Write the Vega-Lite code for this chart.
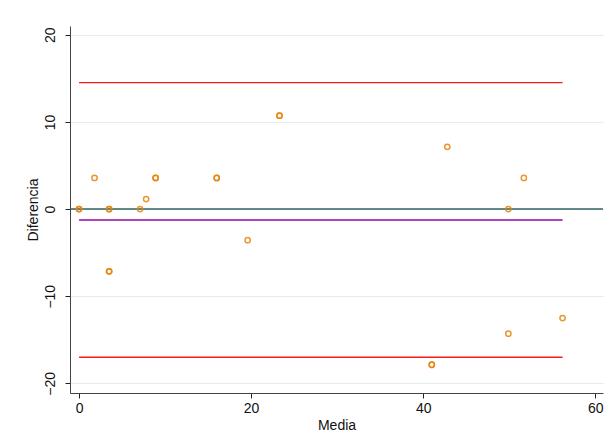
{
  "$schema": "https://vega.github.io/schema/vega-lite/v6.json",
  "width": 533,
  "height": 367,
  "autosize": "none",
  "padding": {"left": 70, "top": 26, "right": 8, "bottom": 55},
  "background": "white",
  "config": {
    "view": {"stroke": null},
    "font": "Liberation Sans",
    "axis": {
      "labelFont": "Liberation Sans",
      "titleFont": "Liberation Sans",
      "labelFontSize": 14,
      "titleFontSize": 14,
      "labelColor": "#111",
      "titleColor": "#111",
      "titleFontWeight": "normal",
      "domainColor": "#444",
      "tickColor": "#222",
      "tickSize": 5,
      "gridColor": "#e3ecef",
      "gridWidth": 1
    }
  },
  "datasets": {
    "pts": [
      {"media": 0, "dif": 0}, {"media": 0, "dif": 0},
      {"media": 1.8, "dif": 3.57},
      {"media": 3.5, "dif": 0}, {"media": 3.5, "dif": 0},
      {"media": 3.5, "dif": -7.14}, {"media": 3.5, "dif": -7.14},
      {"media": 7.1, "dif": 0},
      {"media": 7.8, "dif": 1.15},
      {"media": 8.9, "dif": 3.57}, {"media": 8.9, "dif": 3.57},
      {"media": 16.0, "dif": 3.57}, {"media": 16.0, "dif": 3.57},
      {"media": 19.6, "dif": -3.57},
      {"media": 23.3, "dif": 10.71}, {"media": 23.3, "dif": 10.71},
      {"media": 42.8, "dif": 7.14},
      {"media": 41.0, "dif": -17.86}, {"media": 41.0, "dif": -17.86},
      {"media": 49.9, "dif": 0},
      {"media": 51.7, "dif": 3.57},
      {"media": 49.9, "dif": -14.29},
      {"media": 56.2, "dif": -12.5}
    ],
    "lines": [
      {"kind": "upper", "x1": 0, "x2": 56.2, "y": 14.5},
      {"kind": "mean", "x1": 0, "x2": 56.2, "y": -1.26},
      {"kind": "lower", "x1": 0, "x2": 56.2, "y": -17.0}
    ]
  },
  "layer": [
    {
      "data": {"values": [{"z": 0}]},
      "mark": {"type": "rule", "color": "#2f6361", "strokeWidth": 1.6},
      "encoding": {
        "y": {"field": "z", "type": "quantitative", "scale": {"domain": [-21.1, 21], "nice": false, "zero": false},
          "axis": {"title": "Diferencia", "values": [-20, -10, 0, 10, 20], "labelAngle": -90, "labelAlign": "center", "labelBaseline": "bottom", "labelPadding": 8, "titlePadding": 3, "grid": true}}
      }
    },
    {
      "data": {"name": "lines"},
      "mark": {"type": "rule", "strokeWidth": 1.4},
      "encoding": {
        "x": {"field": "x1", "type": "quantitative"},
        "x2": {"field": "x2"},
        "y": {"field": "y", "type": "quantitative"},
        "color": {"field": "kind", "type": "nominal", "scale": {"domain": ["upper", "mean", "lower"], "range": ["#ff1a1a", "#99079c", "#ff1a1a"]}, "legend": null}
      }
    },
    {
      "data": {"name": "pts"},
      "mark": {"type": "point", "shape": "circle", "filled": false, "color": "#e8850c", "strokeWidth": 1.5, "size": 28, "opacity": 0.85},
      "encoding": {
        "x": {"field": "media", "type": "quantitative", "scale": {"domain": [-1.05, 60.9], "nice": false, "zero": false},
          "axis": {"title": "Media", "values": [0, 20, 40, 60], "grid": false, "labelPadding": 3, "titlePadding": 3}},
        "y": {"field": "dif", "type": "quantitative"}
      }
    }
  ]
}
